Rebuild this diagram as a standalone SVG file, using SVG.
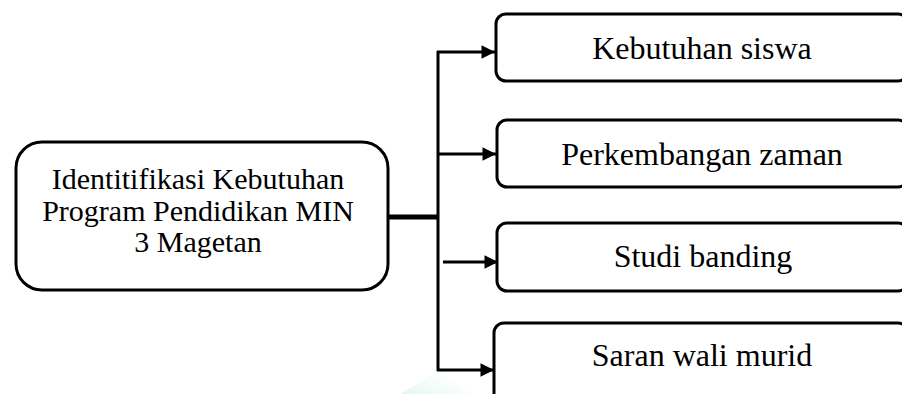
<svg xmlns="http://www.w3.org/2000/svg" width="902" height="394" viewBox="0 0 902 394">
  <defs>
    <marker id="arrow" viewBox="0 0 10 10" refX="10" refY="5" markerWidth="5" markerHeight="4.5" markerUnits="strokeWidth" orient="auto">
      <path d="M0,0 L10,5 L0,10 Z" fill="#000"/>
    </marker>
    <linearGradient id="wm" x1="0" y1="1" x2="1" y2="0">
      <stop offset="0" stop-color="#bfeedd" stop-opacity="0.8"/>
      <stop offset="1" stop-color="#ffffff" stop-opacity="0"/>
    </linearGradient>
  </defs>
  <style>
    .box { fill: #fff; stroke: #000; stroke-width: 3; }
    .lbl { font-family: "Liberation Serif", "Times New Roman", serif; font-size: 30px; fill: #000; text-anchor: middle; }
    .rl { font-size: 32px; }
    .line { fill: none; stroke: #000; stroke-width: 3; }
  </style>
  <rect width="902" height="394" fill="#fff"/>
  <polygon points="400,394 470,394 440,370" fill="url(#wm)" opacity="0.6"/>

  <g id="connectors">
    <line class="line" x1="388" y1="217" x2="438" y2="217" style="stroke-width:5"/>
    <line class="line" x1="438" y1="51" x2="438" y2="371"/>
    <line class="line" x1="437" y1="52" x2="495" y2="52" marker-end="url(#arrow)"/>
    <line class="line" x1="437" y1="154" x2="496" y2="154" marker-end="url(#arrow)"/>
    <line class="line" x1="443" y1="262" x2="498" y2="262" marker-end="url(#arrow)"/>
    <line class="line" x1="437" y1="370" x2="494" y2="370" marker-end="url(#arrow)"/>
  </g>

  <g id="main">
    <rect class="box" x="16" y="142" width="372" height="148" rx="26" ry="26"/>
    <text class="lbl" x="198" y="189">Identitifikasi Kebutuhan</text>
    <text class="lbl" x="198" y="221">Program Pendidikan MIN</text>
    <text class="lbl" x="198" y="252">3 Magetan</text>
  </g>

  <g id="n1">
    <rect class="box" x="496" y="14" width="412" height="67" rx="10" ry="10"/>
    <text class="lbl rl" x="702" y="59">Kebutuhan siswa</text>
  </g>
  <g id="n2">
    <rect class="box" x="497" y="120" width="411" height="67" rx="10" ry="10"/>
    <text class="lbl rl" x="702" y="165">Perkembangan zaman</text>
  </g>
  <g id="n3">
    <rect class="box" x="497" y="223" width="411" height="68" rx="10" ry="10"/>
    <text class="lbl rl" x="703" y="267">Studi banding</text>
  </g>
  <g id="n4">
    <rect class="box" x="494" y="323" width="414" height="90" rx="10" ry="10"/>
    <text class="lbl rl" x="702" y="366">Saran wali murid</text>
  </g>
</svg>
